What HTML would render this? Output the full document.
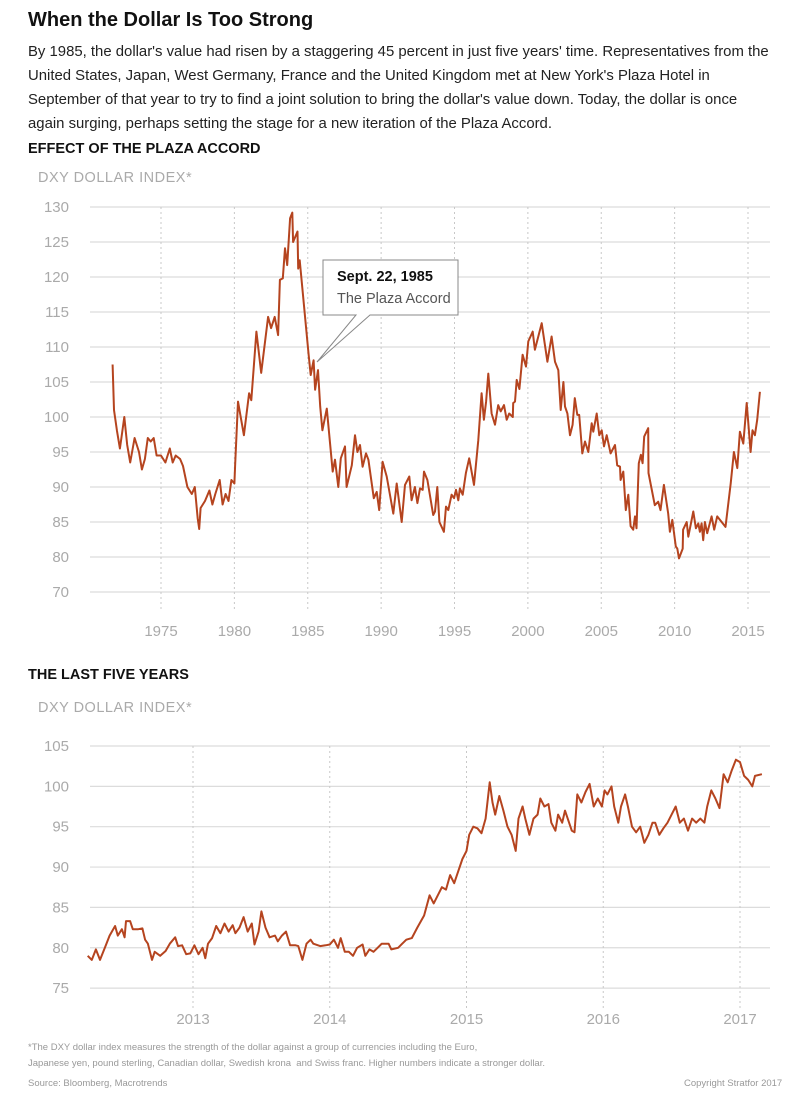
<!DOCTYPE html>
<html><head><meta charset="utf-8">
<style>
body{margin:0;background:#fff;font-family:"Liberation Sans",sans-serif;}
#wrap{position:relative;width:800px;height:1106px;overflow:hidden;}
.t{position:absolute;white-space:nowrap;}
</style></head>
<body>
<div id="wrap">
<div class="t" style="left:28px;top:9px;font-size:20px;font-weight:bold;color:#111;">When the Dollar Is Too Strong</div>
<div class="t" style="left:28px;top:40px;font-size:14.9px;line-height:24px;color:#222;">By 1985, the dollar's value had risen by a staggering 45 percent in just five years' time. Representatives from the<br>United States, Japan, West Germany, France and the United Kingdom met at New York's Plaza Hotel in<br>September of that year to try to find a joint solution to bring the dollar's value down. Today, the dollar is once<br>again surging, perhaps setting the stage for a new iteration of the Plaza Accord.</div>
<div class="t" style="left:28px;top:141px;font-size:14.5px;font-weight:bold;color:#111;">EFFECT OF THE PLAZA ACCORD</div>
<div class="t" style="left:38px;top:170px;font-size:14.5px;color:#aaa;letter-spacing:0.5px;">DXY DOLLAR INDEX*</div>
<div class="t" style="left:28px;top:667px;font-size:14.5px;font-weight:bold;color:#111;">THE LAST FIVE YEARS</div>
<div class="t" style="left:38px;top:700px;font-size:14.5px;color:#aaa;letter-spacing:0.5px;">DXY DOLLAR INDEX*</div>
<svg id="svg" width="800" height="1106" style="position:absolute;left:0;top:0;"></svg>
<div class="t" style="left:28px;top:1040px;font-size:9.5px;line-height:16px;color:#999;">*The DXY dollar index measures the strength of the dollar against a group of currencies including the Euro,<br>Japanese yen, pound sterling, Canadian dollar, Swedish krona&nbsp; and Swiss franc. Higher numbers indicate a stronger dollar.</div>
<div class="t" style="left:28px;top:1078px;font-size:9.5px;color:#999;">Source: Bloomberg, Macrotrends</div>
<div class="t" style="left:684px;top:1078px;font-size:9.5px;color:#999;">Copyright Stratfor 2017</div>
</div>
<script>
const c1Years=[1971.7,1971.8,1972.0,1972.2,1972.3,1972.5,1972.7,1972.9,1973.2,1973.5,1973.7,1973.9,1974.1,1974.3,1974.5,1974.7,1975.0,1975.3,1975.6,1975.8,1976.0,1976.3,1976.5,1976.8,1977.1,1977.3,1977.5,1977.6,1977.7,1978.0,1978.3,1978.5,1978.7,1979.0,1979.2,1979.4,1979.6,1979.8,1980.0,1980.05,
1980.25,1980.65,1981.0,1981.15,1981.5,1981.83,1982.3,1982.5,1982.75,1982.98,1983.1,1983.3,1983.45,1983.6,1983.8,1983.95,1984.0,1984.3,1984.35,1984.45,1985.05,1985.2,1985.4,1985.5,1985.7,1985.85,
1986.0,1986.3,1986.7,1986.86,1987.08,1987.25,1987.54,1987.65,1988.0,1988.22,1988.38,1988.56,1988.74,1988.97,1989.13,1989.5,1989.7,1989.87,1990.1,1990.38,1990.83,1991.06,1991.4,1991.63,1991.92,1992.08,1992.3,1992.47,1992.65,1992.83,1992.92,1993.15,1993.55,1993.67,1993.83,1993.97,1994.28,1994.42,1994.58,1994.8,1994.97,1995.1,1995.26,1995.37,1995.56,1995.78,1996.0,1996.33,1996.62,1996.85,1997.0,1997.15,1997.3,1997.53,1997.76,1997.98,1998.15,1998.37,1998.56,1998.73,1998.97,1999.0,1999.12,1999.24,1999.42,1999.64,1999.87,
2000.03,2000.33,2000.48,2000.94,2001.33,2001.62,2001.85,2002.07,2002.24,2002.42,2002.53,2002.69,2002.87,2003.05,2003.2,2003.37,2003.5,2003.71,2003.89,2004.12,2004.35,2004.46,2004.69,2004.87,2005.03,2005.19,2005.37,2005.64,2005.94,2006.09,2006.28,2006.32,2006.5,2006.67,2006.84,2007.0,2007.18,2007.3,2007.4,2007.56,2007.7,2007.82,2007.93,2008.2,2008.22,2008.65,2008.88,2009.04,2009.27,2009.56,2009.68,2009.84,2010.08,2010.18,2010.3,2010.55,2010.58,2010.82,2010.93,2011.27,2011.45,2011.61,2011.72,2011.84,2011.95,2012.06,2012.22,2012.52,2012.7,2012.9,2013.47,2013.82,2014.04,2014.27,2014.45,2014.68,2014.91,2015.18,2015.31,2015.47,2015.63,2015.81];
const c1Values=[107.5,101,98,95.5,97,100,96,93.5,97,95,92.5,94,97,96.5,97,94.5,94.5,93.5,95.5,93.5,94.5,94,93,90,89,90,85.5,84,87,88,89.5,87.5,89,91,87.5,89,88,91,90.5,93,
102.2,97.4,103.4,102.4,112.2,106.3,114.3,112.7,114.3,111.7,119.6,119.8,124.1,121.7,128.4,129.2,125,126.5,121.2,122.4,109.1,106,108.1,103.9,106.7,101.5,
98.1,101.2,92.2,93.9,90.0,94.1,95.8,90.0,93.1,97.4,95.0,96.0,92.9,94.8,93.9,88.4,89.3,86.7,93.6,91.5,86.2,90.5,85.0,90.3,91.5,88.1,90.0,87.7,89.8,89.6,92.2,91.0,86.0,86.5,90.0,85.0,83.6,87.2,86.7,88.9,88.4,89.6,88.1,89.8,88.9,92.0,94.1,90.3,96.7,103.4,99.6,102.2,106.2,100.5,98.9,101.7,100.8,101.7,99.6,100.5,100.0,102.0,102.2,105.3,104.0,108.9,107.2,
110.8,112.2,109.6,113.4,107.9,111.5,107.9,106.7,101.0,105.0,101.5,100.5,97.4,98.9,102.7,100.3,100.3,94.8,96.5,95.0,99.1,97.9,100.5,97.4,98.1,95.8,97.4,94.8,96.0,93.1,92.9,91.0,92.2,86.7,88.9,84.4,83.9,85.8,84.1,93.4,94.6,93.4,97.2,98.4,92.0,87.4,87.9,86.7,90.3,86.2,83.6,85.3,81.5,81.2,79.8,81.2,83.9,85.0,82.9,86.5,84.1,84.8,83.6,84.8,82.4,85.0,83.4,85.8,83.9,85.8,84.3,90.5,95.0,92.7,97.9,96.2,102.0,95.0,98.1,97.4,99.6,103.6];
const c1YTicks=[130,125,120,115,110,105,100,95,90,85,80,75];
const c1YLabels=["130","125","120","115","110","105","100","95","90","85","80","70"];
const c1XTicks=[1975,1980,1985,1990,1995,2000,2005,2010,2015];

const c2Dates=[2012.23,2012.26,2012.29,2012.32,2012.36,2012.39,2012.43,2012.45,2012.48,2012.50,2012.51,2012.54,2012.56,2012.60,2012.63,2012.65,2012.67,2012.70,2012.72,2012.76,2012.80,2012.83,2012.87,2012.89,2012.92,2012.95,2012.98,2013.01,2013.04,2013.07,2013.09,2013.11,2013.14,2013.17,2013.20,2013.23,2013.26,2013.29,2013.31,2013.34,2013.37,2013.40,2013.43,2013.45,2013.48,2013.50,2013.53,2013.56,2013.60,2013.62,2013.65,2013.68,2013.71,2013.75,2013.77,2013.80,2013.83,2013.86,2013.88,2013.93,2013.97,2014.00,2014.03,2014.06,2014.08,2014.11,2014.14,2014.17,2014.20,2014.24,2014.26,2014.29,2014.32,2014.35,2014.38,2014.43,2014.45,2014.50,2014.53,2014.56,2014.60,2014.64,2014.69,2014.73,2014.76,2014.79,2014.82,2014.85,2014.88,2014.91,2014.94,2014.97,2015.00,2015.02,2015.05,2015.08,2015.11,2015.14,2015.17,2015.19,2015.21,2015.24,2015.27,2015.30,2015.33,2015.36,2015.38,2015.41,2015.43,2015.46,2015.49,2015.52,2015.54,2015.57,2015.60,2015.62,2015.65,2015.67,2015.70,2015.72,2015.74,2015.77,2015.79,2015.81,2015.84,2015.87,2015.90,2015.93,2015.96,2015.99,2016.01,2016.03,2016.06,2016.08,2016.11,2016.13,2016.16,2016.18,2016.21,2016.24,2016.27,2016.30,2016.33,2016.36,2016.38,2016.41,2016.44,2016.47,2016.50,2016.53,2016.56,2016.59,2016.62,2016.65,2016.68,2016.71,2016.74,2016.76,2016.79,2016.82,2016.85,2016.88,2016.91,2016.94,2016.97,2017.00,2017.03,2017.06,2017.09,2017.11,2017.16];
const c2Values=[79,78.5,79.8,78.5,80.2,81.5,82.7,81.5,82.3,81.3,83.3,83.3,82.3,82.3,82.4,81,80.5,78.5,79.5,79,79.6,80.5,81.3,80.2,80.3,79.2,79.3,80.3,79.2,80,78.7,80.5,81.2,82.7,81.8,83,82,82.8,81.8,82.5,83.8,82,83,80.4,82,84.5,82.5,81.3,81.5,80.8,81.5,82,80.3,80.3,80.2,78.5,80.5,81,80.5,80.2,80.3,80.4,81,80,81.2,79.5,79.5,79,80,80.4,79,79.8,79.5,80,80.5,80.5,79.8,80,80.5,81,81.2,82.5,84,86.5,85.5,86.5,87.5,87.2,89,88,89.5,91,92,94,95,94.8,94.2,96,100.5,98,96.5,98.8,97,95,94,92,96,97.5,96,94,96,96.5,98.5,97.5,97.8,95.5,94.5,96.5,95.5,97,96,94.5,94.3,99,98,99.3,100.3,97.5,98.5,97.5,99.5,99,100,97.5,95.5,97.5,99,97.5,95,94.3,95,93,94,95.5,95.5,94,94.8,95.5,96.5,97.5,95.5,96,94.5,96,95.5,96,95.5,97.5,99.5,98.5,97.3,101.5,100.5,102,103.3,103,101.3,100.8,100,101.3,101.5];
const c2YTicks=[105,100,95,90,85,80,75];
const c2XTicks=[2013,2014,2015,2016,2017];

const svg=document.getElementById('svg');
const NS='http://www.w3.org/2000/svg';
function mk(tag,attrs,parent){const e=document.createElementNS(NS,tag);for(const k in attrs)e.setAttribute(k,attrs[k]);(parent||svg).appendChild(e);return e;}
const x1=t=>161+(t-1975)*14.675, y1=v=>207+(130-v)*7;
const x2=t=>193+(t-2013)*136.75, y2=v=>746+(105-v)*8.07;

function drawChart(name,xs,ys,yt,yl,xt,dates,vals,xLabelY){
  const g=mk('g',{});
  
  
  yt.forEach((v,i)=>{
    const l=mk('line',{x1:90,x2:770,y1:ys(v),y2:ys(v),stroke:'#dcdcdc','stroke-width':1.2},g);
    
    
    const t=mk('text',{x:69,y:ys(v)+5,'text-anchor':'end','font-size':15,fill:'#aaa','font-family':'Liberation Sans, sans-serif'},g);
    t.textContent=yl[i];
    
    
  });
  xt.forEach(v=>{
    const l=mk('line',{x1:xs(v),x2:xs(v),y1:ys(yt[0]),y2:ys(yt[yt.length-1])+20,stroke:'#c8c8c8','stroke-width':1,'stroke-dasharray':'2,3'},g);
    
    
    const t=mk('text',{x:xs(v),y:xLabelY,'text-anchor':'middle','font-size':15,fill:'#aaa','font-family':'Liberation Sans, sans-serif'},g);
    t.textContent=String(v);
    
    
  });
  const d=dates.map((t,i)=>(i?'L':'M')+xs(t).toFixed(1)+','+ys(vals[i]).toFixed(1)).join('');
  const p=mk('path',{d:d,fill:'none',stroke:'#b5441f','stroke-width':2,'stroke-linejoin':'round'},g);
  
  
}
drawChart('chart1-plaza-accord',x1,y1,c1YTicks,c1YLabels,c1XTicks,c1Years,c1Values,636);
drawChart('chart2-last-five-years',x2,y2,c2YTicks,c2YTicks.map(String),c2XTicks,c2Dates,c2Values,1024);

const ag=mk('g',{});


mk('path',{d:'M323,260 L458,260 L458,315 L370,315 L317,362 L356,315 L323,315 Z',fill:'#fff',stroke:'#888','stroke-width':1},ag);
const a1=mk('text',{x:337,y:281,'font-size':14.5,'font-weight':'bold',fill:'#111','font-family':'Liberation Sans, sans-serif'},ag);
a1.textContent='Sept. 22, 1985';


const a2=mk('text',{x:337,y:303,'font-size':14.5,fill:'#555','font-family':'Liberation Sans, sans-serif'},ag);
a2.textContent='The Plaza Accord';


</script>
</body></html>
